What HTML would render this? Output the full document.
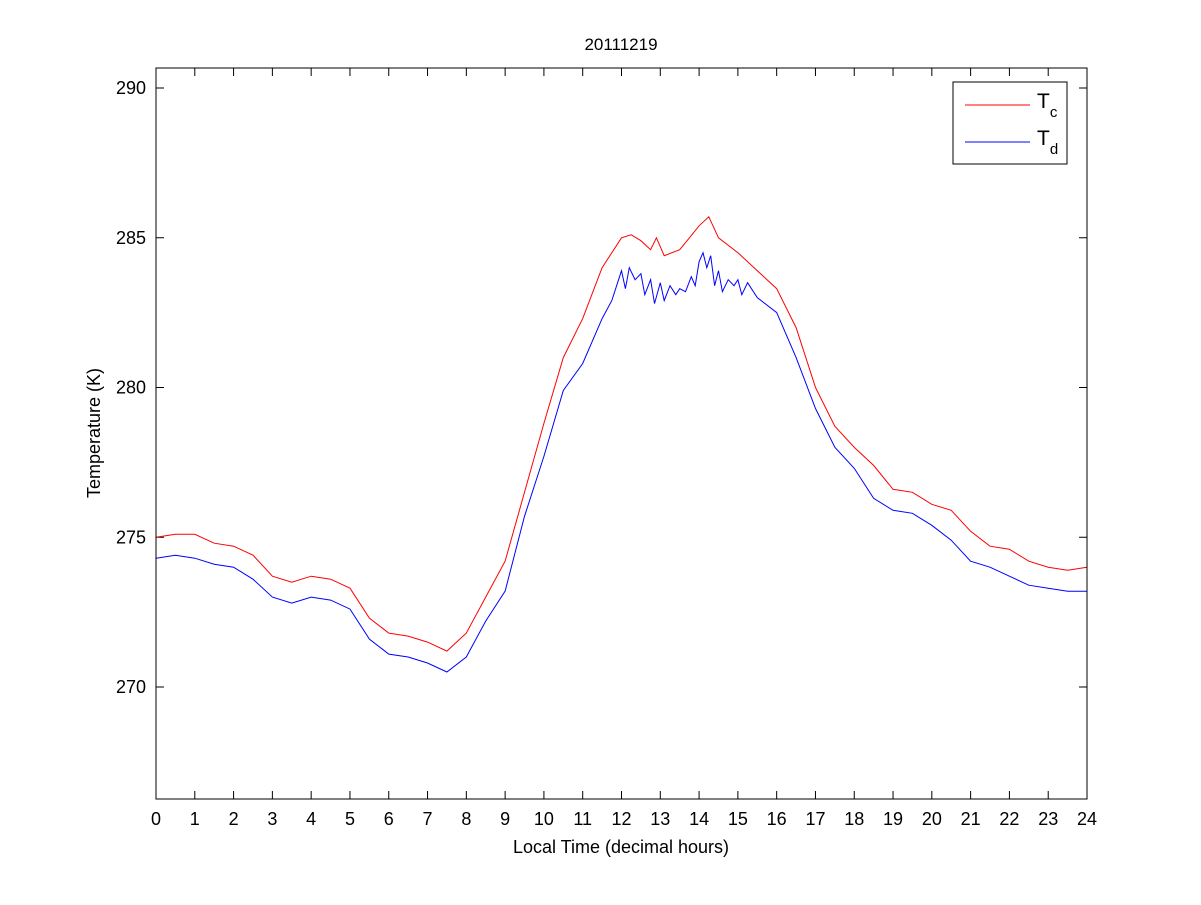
<!DOCTYPE html>
<html><head><meta charset="utf-8"><style>
body{margin:0;background:#fff;}
svg text{font-family:"Liberation Sans",sans-serif;fill:#000;}
</style></head><body>
<svg id="chart" width="1201" height="900" xmlns="http://www.w3.org/2000/svg">
<rect width="1201" height="900" fill="#fff"/>
<g id="axes"></g>
<g id="series"></g>
<rect x="156" y="68" width="931" height="731" fill="none" stroke="#000" stroke-width="1"/>
<text x="621" y="50" font-size="17" text-anchor="middle">20111219</text>
<text x="621" y="853" font-size="18" text-anchor="middle">Local Time (decimal hours)</text>
<text x="100" y="433" font-size="18" text-anchor="middle" transform="rotate(-90 100 433)">Temperature (K)</text>
<g>
<rect x="953" y="82" width="114" height="82" fill="#fff" stroke="#000"/>
<line x1="965" y1="105" x2="1030" y2="105" stroke="#ff0000"/>
<text x="1037" y="108" font-size="21">T<tspan font-size="15" dy="9">c</tspan></text>
<line x1="965" y1="142" x2="1030" y2="142" stroke="#0000ff"/>
<text x="1037" y="145" font-size="21">T<tspan font-size="15" dy="9">d</tspan></text>
</g>
</svg>
<script>
const xTicks=[0,1,2,3,4,5,6,7,8,9,10,11,12,13,14,15,16,17,18,19,20,21,22,23,24];
const yTicks=[270,275,280,285,290];
const redHours=[0,0.5,1,1.5,2,2.5,3,3.5,4,4.5,5,5.5,6,6.5,7,7.5,8,8.5,9,9.5,10,10.5,11,11.5,12,12.25,12.5,12.75,12.9,13.1,13.5,13.75,14,14.25,14.5,15,15.5,16,16.5,17,17.5,18,18.5,19,19.5,20,20.5,21,21.5,22,22.5,23,23.5,24];
const redVals=[275.0,275.1,275.1,274.8,274.7,274.4,273.7,273.5,273.7,273.6,273.3,272.3,271.8,271.7,271.5,271.2,271.8,273.0,274.2,276.5,278.8,281.0,282.3,284.0,285.0,285.1,284.9,284.6,285.0,284.4,284.6,285.0,285.4,285.7,285.0,284.5,283.9,283.3,282.0,280.0,278.7,278.0,277.4,276.6,276.5,276.1,275.9,275.2,274.7,274.6,274.2,274.0,273.9,274.0];
const blueHours=[0,0.5,1,1.5,2,2.5,3,3.5,4,4.5,5,5.5,6,6.5,7,7.5,8,8.5,9,9.5,10,10.5,11,11.5,11.75,11.9,12,12.1,12.2,12.35,12.5,12.6,12.75,12.85,13,13.1,13.25,13.4,13.5,13.65,13.8,13.9,14,14.1,14.2,14.3,14.4,14.5,14.6,14.75,14.9,15,15.1,15.25,15.5,16,16.5,17,17.5,18,18.5,19,19.5,20,20.5,21,21.5,22,22.5,23,23.5,24];
const blueVals=[274.3,274.4,274.3,274.1,274.0,273.6,273.0,272.8,273.0,272.9,272.6,271.6,271.1,271.0,270.8,270.5,271.0,272.2,273.2,275.7,277.7,279.9,280.8,282.3,282.9,283.5,283.9,283.3,284.0,283.6,283.8,283.1,283.6,282.8,283.5,282.9,283.4,283.1,283.3,283.2,283.7,283.4,284.2,284.5,284.0,284.4,283.4,283.9,283.2,283.6,283.4,283.6,283.1,283.5,283.0,282.5,281.0,279.3,278.0,277.3,276.3,275.9,275.8,275.4,274.9,274.2,274.0,273.7,273.4,273.3,273.2,273.2];
const X0=156,X1=1087,Y0=68,Y1=799;
function xs(h){return X0+(h-0)/(24-0)*(X1-X0);}
function ys(v){return 687+(v-270)*(88-687)/20;}
const NS="http://www.w3.org/2000/svg";
const axes=document.getElementById('axes');
xTicks.forEach(t=>{
  const x=xs(t);
  [[Y1,Y1-8],[Y0,Y0+8]].forEach(([a,b])=>{
    const l=document.createElementNS(NS,'line');
    
    
    l.setAttribute('x1',x);l.setAttribute('x2',x);l.setAttribute('y1',a);l.setAttribute('y2',b);l.setAttribute('stroke','#000');axes.appendChild(l);
  });
  const tx=document.createElementNS(NS,'text');
  
  
  tx.setAttribute('x',x);tx.setAttribute('y',825);tx.setAttribute('font-size','18');tx.setAttribute('text-anchor','middle');tx.textContent=t;axes.appendChild(tx);
});
yTicks.forEach(t=>{
  const y=ys(t);
  [[X0,X0+8],[X1,X1-8]].forEach(([a,b])=>{
    const l=document.createElementNS(NS,'line');
    
    
    l.setAttribute('x1',a);l.setAttribute('x2',b);l.setAttribute('y1',y);l.setAttribute('y2',y);l.setAttribute('stroke','#000');axes.appendChild(l);
  });
  const tx=document.createElementNS(NS,'text');
  
  
  tx.setAttribute('x',146);tx.setAttribute('y',y+6);tx.setAttribute('font-size','18');tx.setAttribute('text-anchor','end');tx.textContent=t;axes.appendChild(tx);
});
const series=document.getElementById('series');
function draw(hs,vs,color,name){
  const p=document.createElementNS(NS,'polyline');
  
  
  p.setAttribute('points',hs.map((h,i)=>xs(h).toFixed(1)+','+ys(vs[i]).toFixed(1)).join(' '));
  p.setAttribute('fill','none');p.setAttribute('stroke',color);p.setAttribute('stroke-width','1');
  series.appendChild(p);
}
draw(redHours,redVals,'#ff0000','tc-line');
draw(blueHours,blueVals,'#0000ff','td-line');
</script>
</body></html>
